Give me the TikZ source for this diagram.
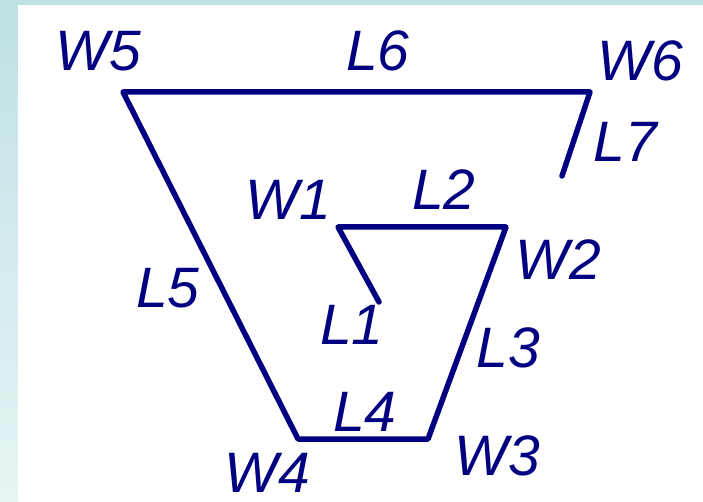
\documentclass[tikz,border=0pt]{standalone}
\usepackage{fontspec}
\setmainfont{Liberation Sans}
\definecolor{navy}{RGB}{0,0,128}
\definecolor{bgtop}{RGB}{190,225,228}
\definecolor{bgbot}{RGB}{232,244,245}
\begin{document}
\begin{tikzpicture}[x=1pt,y=-1pt,
  lbl/.style={text=navy,font=\fontsize{57}{62}\selectfont\itshape,inner sep=0pt,anchor=center},
  wall/.style={draw=navy,line width=5.5pt,line join=round,line cap=round}]
\useasboundingbox (0,0) rectangle (703,502);
\shade[top color=bgtop,bottom color=bgbot] (0,0) rectangle (703,502);
\fill[white] (18,5) rectangle (703,502);
% vertices
\coordinate (e7) at (562,176);
\coordinate (w6) at (590,92);
\coordinate (w5) at (123,92);
\coordinate (w4) at (298,439);
\coordinate (w3) at (428,439);
\coordinate (w2) at (506,227);
\coordinate (w1) at (338,227);
\coordinate (e1) at (379,302);
\draw[wall] (e7) -- (w6) -- (w5) -- (w4) -- (w3) -- (w2) -- (w1) -- (e1);
% labels
\node[lbl] (tw5) at (98,51) {W5};
\node[lbl] (tl6) at (378,51) {L6};
\node[lbl] (tw6) at (640,61) {W6};
\node[lbl] (tl7) at (625,142) {L7};
\node[lbl] (tw1) at (288,200) {W1};
\node[lbl] (tl2) at (444,190) {L2};
\node[lbl] (tw2) at (558,260) {W2};
\node[lbl] (tl5) at (168,288) {L5};
\node[lbl] (tl1) at (352,325) {L1};
\node[lbl] (tl3) at (508,348) {L3};
\node[lbl] (tl4) at (365,412) {L4};
\node[lbl] (tw4) at (267,473) {W4};
\node[lbl] (tw3) at (497,456) {W3};
\end{tikzpicture}
\end{document}
